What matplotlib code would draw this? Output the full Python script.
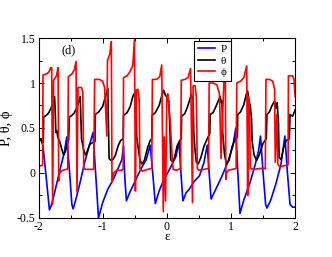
import numpy as np
import matplotlib
matplotlib.use("Agg")
import matplotlib.pyplot as plt
from matplotlib.ticker import MultipleLocator

plt.rcParams['font.family'] = ['Liberation Serif', 'DejaVu Serif']
plt.rcParams['axes.unicode_minus'] = False

# P (blue)
p_x = [-2.0, -1.96, -1.93, -1.88, -1.83, -1.80, -1.76, -1.70, -1.65, -1.60, -1.56,
       -1.52, -1.48, -1.46, -1.42, -1.35, -1.28, -1.21, -1.15,
       -1.11, -1.065, -1.0, -0.92, -0.84, -0.76, -0.70, -0.675,
       -0.655, -0.63, -0.58, -0.50, -0.40, -0.32, -0.26,
       -0.22, -0.18, -0.12, -0.05, 0.05, 0.14, 0.19,
       0.22, 0.25, 0.30, 0.35, 0.42, 0.51, 0.58, 0.63,
       0.66, 0.69, 0.75, 0.85, 0.95, 1.03, 1.075,
       1.10, 1.14, 1.20, 1.30, 1.38, 1.43, 1.46,
       1.50, 1.54, 1.56, 1.62, 1.70, 1.78, 1.84,
       1.88, 1.92, 1.96, 2.0]
p_y = [0.38, 0.38, 0.30, -0.05, -0.41, -0.36, -0.25, -0.07, 0.08, 0.22, 0.40,
       0.05, -0.35, -0.40, -0.30, -0.10, 0.12, 0.30, 0.45,
       0.0, -0.50, -0.33, -0.18, -0.08, 0.05, 0.15, 0.30,
       -0.05, -0.31, -0.22, -0.10, 0.05, 0.15, 0.31,
       0.0, -0.34, -0.20, -0.08, 0.05, 0.18, 0.34,
       0.0, -0.31, -0.22, -0.18, -0.10, -0.03, 0.12, 0.31,
       0.0, -0.29, -0.20, -0.05, 0.12, 0.30, 0.50,
       0.10, -0.45, -0.30, -0.10, 0.10, 0.25, 0.41,
       0.0, -0.35, -0.39, -0.30, -0.12, 0.10, 0.41,
       0.0, -0.35, -0.38, -0.38]

# theta (black)
t_x = [-2.0, -1.98, -1.96, -1.94, -1.925, -1.92, -1.88, -1.84, -1.80, -1.77, -1.75,
       -1.74, -1.73, -1.715, -1.70, -1.67, -1.64, -1.61, -1.58, -1.55, -1.53,
       -1.52, -1.48, -1.44, -1.40, -1.37, -1.35, -1.34, -1.33, -1.30, -1.27,
       -1.24, -1.20, -1.15, -1.12, -1.115, -1.06, -1.00, -0.96, -0.92,
       -0.91, -0.90, -0.87, -0.84, -0.80, -0.76, -0.72, -0.68,
       -0.675, -0.62, -0.57, -0.53, -0.50, -0.48, -0.47, -0.45, -0.42, -0.39,
       -0.35, -0.30, -0.26, -0.235, -0.23, -0.18, -0.12, -0.07, -0.05, -0.02,
       0.01, 0.03, 0.05, 0.06, 0.09, 0.12, 0.16, 0.20, 0.225,
       0.23, 0.28, 0.32, 0.36, 0.38, 0.41, 0.42, 0.44, 0.46, 0.49, 0.53,
       0.58, 0.63, 0.67, 0.675, 0.72, 0.76, 0.80, 0.83, 0.85, 0.86, 0.87,
       0.90, 0.93, 0.97, 1.02, 1.07, 1.10, 1.105, 1.15, 1.20, 1.24, 1.26,
       1.28, 1.30, 1.32, 1.33, 1.36, 1.40, 1.44, 1.50, 1.55,
       1.56, 1.60, 1.64, 1.68, 1.70, 1.72, 1.74, 1.75, 1.78, 1.82, 1.86,
       1.91, 1.92, 1.96, 2.0]
t_y = [0.30, 0.37, 0.38, 0.33, 0.35, 0.62, 0.64, 0.67, 0.73, 0.80, 0.85,
       0.70, 0.45, 0.47, 0.40, 0.35, 0.27, 0.20, 0.24, 0.33, 0.37,
       0.62, 0.64, 0.67, 0.73, 0.80, 0.85, 0.60, 0.38, 0.27, 0.20,
       0.24, 0.32, 0.34, 0.35, 0.65, 0.68, 0.74, 0.84, 0.94,
       0.55, 0.16, 0.14, 0.15, 0.20, 0.30, 0.36, 0.38,
       0.64, 0.67, 0.74, 0.85, 0.89, 0.80, 0.40, 0.30, 0.15, 0.10,
       0.14, 0.28, 0.36, 0.38, 0.64, 0.67, 0.75, 0.88, 0.92, 0.86,
       0.84, 0.80, 0.45, 0.15, 0.12, 0.17, 0.30, 0.36, 0.38,
       0.63, 0.66, 0.73, 0.82, 0.87, 0.82, 0.45, 0.25, 0.12, 0.10, 0.17,
       0.30, 0.38, 0.44, 0.65, 0.67, 0.73, 0.80, 0.85, 0.78, 0.80, 0.45,
       0.20, 0.10, 0.14, 0.30, 0.38, 0.40, 0.65, 0.68, 0.76, 0.88, 0.91,
       0.80, 0.75, 0.60, 0.35, 0.20, 0.14, 0.20, 0.33, 0.38,
       0.65, 0.68, 0.75, 0.80, 0.72, 0.78, 0.55, 0.17, 0.15, 0.28, 0.36,
       0.38, 0.65, 0.63, 0.70]

# phi (red)
f_x = [-2.0, -1.99, -1.95, -1.935, -1.93, -1.88, -1.84, -1.81, -1.795, -1.78,
       -1.765, -1.72, -1.695, -1.685, -1.67, -1.62, -1.57, -1.545,
       -1.535, -1.48, -1.44, -1.415, -1.40, -1.385, -1.33, -1.31, -1.295,
       -1.26, -1.20, -1.14, -1.125, -1.05, -1.00, -0.97, -0.935,
       -0.925, -0.89, -0.865, -0.855, -0.83, -0.78, -0.70, -0.68,
       -0.675, -0.62, -0.57, -0.53, -0.505, -0.49, -0.475, -0.45, -0.43, -0.42,
       -0.38, -0.30, -0.235, -0.225, -0.16, -0.11, -0.08, -0.055, -0.04, -0.02,
       0.0, 0.015, 0.05, 0.09, 0.10, 0.15, 0.215,
       0.225, 0.28, 0.33, 0.37, 0.40, 0.41, 0.44, 0.46, 0.475,
       0.50, 0.58, 0.65, 0.66, 0.72, 0.78, 0.82, 0.845, 0.91, 0.92, 0.93,
       0.96, 1.02, 1.08, 1.09, 1.15, 1.20, 1.245, 1.26, 1.27, 1.29, 1.30,
       1.36, 1.45, 1.535, 1.545, 1.60, 1.65, 1.68, 1.69, 1.715, 1.73,
       1.76, 1.83, 1.89, 1.895, 1.96, 1.98, 2.0]
f_y = [-0.15, 0.08, 0.08, 0.10, 1.09, 1.10, 1.12, 1.17, 1.17, -0.35,
       1.03, 1.08, 1.17, -0.09, 0.0, 0.03, 0.04, 0.04,
       1.07, 1.10, 1.15, 1.24, -0.21, 0.95, 0.95, 0.90, 0.05,
       0.04, 0.04, 0.04, 1.04, 1.04, 1.02, 0.95, 0.41,
       1.25, 1.32, 1.46, -0.10, 0.0, 0.03, 0.03, 0.04,
       1.06, 1.08, 1.13, 1.20, 1.48, -0.20, 0.92, 0.93, 0.80, 0.05,
       0.02, 0.04, 0.05, 1.04, 1.04, 1.07, 1.20, -0.43, 0.40, -0.31,
       0.85, 0.88, 0.60, 0.10, 0.04, 0.03, 0.05,
       1.03, 1.04, 1.06, 1.16, -0.33, 0.97, 0.97, 0.85, 0.05,
       0.03, 0.04, 0.05, 1.00, 1.00, 0.98, 0.88, 0.16, 1.41, -0.07, 0.0,
       0.03, 0.04, 0.05, 1.00, 1.02, 1.06, 1.19, -0.25, 0.85, 0.75, 0.05,
       0.04, 0.05, 0.05, 1.04, 1.04, 1.02, 0.93, 0.12, 0.65, 0.10,
       0.07, 0.08, 0.09, 1.08, 1.08, 1.05, 0.85]

fig = plt.figure(figsize=(3.32, 2.57), dpi=100)
ax = fig.add_axes([0.116, 0.152, 0.773, 0.70])

ax.plot(p_x, p_y, color='#0000ff', lw=1.2, label='P')
ax.plot(t_x, t_y, color='black', lw=1.2, label='θ')
ax.plot(f_x, f_y, color='#ff0000', lw=1.2, label='ϕ')

ax.set_xlim(-2, 2)
ax.set_ylim(-0.5, 1.5)
ax.xaxis.set_major_locator(MultipleLocator(1))
ax.xaxis.set_minor_locator(MultipleLocator(0.5))
ax.yaxis.set_major_locator(MultipleLocator(0.5))
ax.yaxis.set_minor_locator(MultipleLocator(0.25))
ax.set_xticks([-2, -1, 0, 1, 2])
ax.set_xticklabels(['-2', '-1', '0', '1', '2'])
ax.set_yticks([-0.5, 0, 0.5, 1, 1.5])
ax.set_yticklabels(['-0.5', '0', '0.5', '1', '1.5'])
ax.tick_params(which='both', direction='in', top=True, right=True,
               labelsize=8.5, pad=2, width=0.7)
ax.tick_params(which='major', length=3.5)
ax.tick_params(which='minor', length=2)
for s in ax.spines.values():
    s.set_linewidth(0.8)

ax.set_xlabel('ε', fontsize=9.5, labelpad=-1)
ax.set_ylabel('P, θ, ϕ', fontsize=10.5, labelpad=3)
ax.text(0.09, 0.915, '(d)', transform=ax.transAxes, fontsize=9)

leg = ax.legend(loc='upper left', bbox_to_anchor=(0.607, 0.982), fontsize=8,
                handlelength=1.6, handletextpad=0.5, borderpad=0.3,
                labelspacing=0.15, fancybox=False, framealpha=1,
                edgecolor='black', borderaxespad=0)
leg.get_frame().set_linewidth(0.8)

fig.savefig('out.png', dpi=100)
